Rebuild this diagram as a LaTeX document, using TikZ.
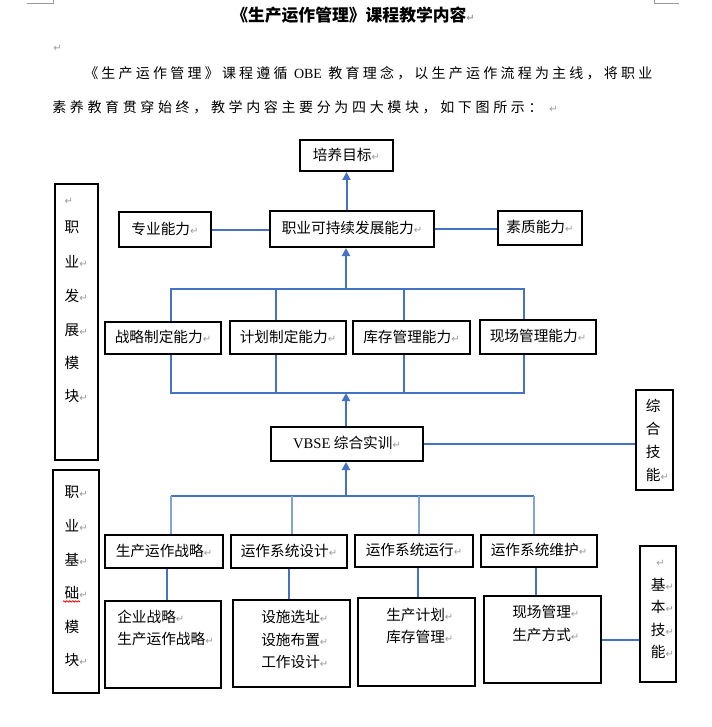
\documentclass[tikz,border=0pt]{standalone}
\usepackage{fontspec}
\setmainfont{Noto Sans CJK SC}
\newfontfamily\symfont{DejaVu Sans}
\newfontfamily\latinserif{Liberation Serif}
\newfontfamily\paraA{Noto Sans CJK SC}[LetterSpace=23]
\newfontfamily\paraB{Noto Sans CJK SC}[LetterSpace=26]
\usetikzlibrary{arrows.meta, calc, decorations.pathmorphing}
\definecolor{linkblue}{RGB}{68,114,196}
\definecolor{paleblue}{RGB}{128,165,208}
\definecolor{markgray}{RGB}{155,155,155}
\newcommand{\retmark}{{\symfont\color{markgray}\fontsize{7.5}{8}\selectfont ↵}}
\newcommand{\boxfont}{\fontsize{11}{13}\selectfont}

\begin{document}
\begin{tikzpicture}[x=0.75pt, y=-0.75pt,
    box/.style={draw, line width=1.5pt, inner sep=0pt, font=\boxfont, text height=0.76em, text depth=0.02em},
    modbox/.style={draw, line width=0.8pt, inner sep=0pt},
    boxsize/.style 2 args={minimum width=#1*0.75pt, minimum height=#2*0.75pt},
    txt/.style={anchor=west, inner sep=0pt, font=\boxfont, text height=0.76em, text depth=0.02em},
    conn/.style={linkblue, line width=1.5pt},
    paleconn/.style={paleblue, line width=1.2pt},
    uparrow/.style={conn, -{Triangle[length=6pt, width=6pt]}}
]

\path[use as bounding box, fill=white] (0,0) rectangle (712,727);

% page corner marks
\draw[markgray, line width=0.6pt] (27,3) -- (53,3) -- (53,0);
\draw[markgray, line width=0.6pt] (654,0) -- (654,3) -- (679,3);

% heading and intro
\node[txt, font=\fontsize{12.6}{14}\selectfont\bfseries] (title) at (231,17) {《生产运作管理》课程教学内容\retmark};
\node[txt] (gap) at (53,47) {\retmark};
\node[txt, font=\paraA\fontsize{10.5}{12}\selectfont] (intro1) at (84,74) {《生产运作管理》课程遵循 {\latinserif OBE} 教育理念，以生产运作流程为主线，将职业};
\node[txt, font=\paraB\fontsize{10.5}{12}\selectfont] (intro2) at (52,108) {素养教育贯穿始终，教学内容主要分为四大模块，如下图所示：\ \retmark};

% development module
\node[box, boxsize={93}{31}] (goal) at (346.5,155.5) {培养目标\retmark};
\node[box, boxsize={164}{36}] (core) at (352,229) {职业可持续发展能力\retmark};
\node[box, boxsize={92}{35}] (prof) at (165,229.5) {专业能力\retmark};
\node[box, boxsize={84}{34}] (qual) at (540,228) {素质能力\retmark};

\node[box, boxsize={116}{32}] (ab1) at (163,338) {战略制定能力\retmark};
\node[box, boxsize={116}{33}] (ab2) at (288,337.5) {计划制定能力\retmark};
\node[box, boxsize={117}{33}] (ab3) at (411.5,337.5) {库存管理能力\retmark};
\node[box, boxsize={116}{34}] (ab4) at (538,337) {现场管理能力\retmark};

% practice
\node[box, boxsize={152}{34}] (vbse) at (347,444) {{\latinserif VBSE} 综合实训\retmark};
\node[box, boxsize={37}{100}] (synth) at (654.5,440) {};
\foreach \t/\dy [count=\i] in {综/18, 合/41, 技/64, 能\retmark/87}
  \node[txt] (synth-\i) at ($(synth.north west)+(10.6,\dy)$) {\t};

% basic module
\node[box, boxsize={118}{33}] (op1) at (164,551.5) {生产运作战略\retmark};
\node[box, boxsize={116}{33}] (op2) at (289,551.5) {运作系统设计\retmark};
\node[box, boxsize={118}{32}] (op3) at (414,551) {运作系统运行\retmark};
\node[box, boxsize={116}{32}] (op4) at (539,551) {运作系统维护\retmark};

\node[box, boxsize={116}{87}] (det1) at (163,644.5) {};
\foreach \t/\dy [count=\i] in {企业战略/18, 生产运作战略/40}
  \node[txt] (det1-\i) at ($(det1.north west)+(13,\dy)$) {\t\retmark};
\node[box, boxsize={117}{87}] (det2) at (291.5,643.5) {};
\foreach \t/\dy [count=\i] in {设施选址/19, 设施布置/41.5, 工作设计/64}
  \node[txt] (det2-\i) at ($(det2.north west)+(29,\dy)$) {\t\retmark};
\node[box, boxsize={117}{88}] (det3) at (416.5,642) {};
\foreach \t/\dy [count=\i] in {生产计划/19, 库存管理/41}
  \node[txt] (det3-\i) at ($(det3.north west)+(29,\dy)$) {\t\retmark};
\node[box, boxsize={117}{87}] (det4) at (542.5,639.5) {};
\foreach \t/\dy [count=\i] in {现场管理/18, 生产方式/41}
  \node[txt] (det4-\i) at ($(det4.north west)+(29,\dy)$) {\t\retmark};

\node[box, boxsize={36}{136}] (basic) at (658,614) {};
\node[txt] (basic-0) at ($(basic.north west)+(17,17)$) {\retmark};
\foreach \t/\dy [count=\i] in {基/41, 本/63, 技/86, 能/108}
  \node[txt] (basic-\i) at ($(basic.north west)+(11.6,\dy)$) {\t\retmark};

% side labels
\node[modbox, boxsize={43}{276}] (modA) at (76.5,322) {};
\foreach \t/\dy [count=\i] in {{\retmark}/16, 职/44, 业\retmark/79, 发\retmark/113, 展\retmark/147, 模/180, 块\retmark/213}
  \node[txt] (modA-\i) at ($(modA.north west)+(10,\dy)$) {\t};
\node[modbox, boxsize={46}{223}] (modB) at (76,581.5) {};
\foreach \t/\dy [count=\i] in {职\retmark/23, 业\retmark/57, 基\retmark/91, 础\retmark/124, 模/158, 块\retmark/191}
  \node[txt] (modB-\i) at ($(modB.north west)+(12,\dy)$) {\t};
\draw[red, line width=0.6pt, decorate, decoration={snake, amplitude=0.5pt, segment length=2.2pt}]
  ($(modB-4.south west)+(-1.5,2.5)$) -- ($(modB-4.south west)+(15.5,2.5)$);

% connectors, upper part
\draw[uparrow] (goal.south |- core.north) -- (goal.south);
\draw[conn] (prof.east) -- (prof.east -| core.west);
\draw[conn] (core.east) -- (core.east -| qual.west);

\foreach \n/\dx in {ab1/7.5, ab2/-12.5, ab3/-7.5, ab4/-14.5}
  \coordinate (\n-x) at ($(\n.center)+(\dx,0)$);
\coordinate (topbus) at (346,289);
\coordinate (midbus) at (346,393);
\draw[conn] (ab1.north -| ab1-x) |- (topbus) -| (ab4.north -| ab4-x);
\draw[conn] (ab1.south -| ab1-x) |- (midbus) -| (ab4.south -| ab4-x);
\foreach \n in {ab2, ab3} {
  \draw[conn] (\n.north -| \n-x) -- (topbus -| \n-x);
  \draw[conn] (\n.south -| \n-x) -- (midbus -| \n-x);
}
\draw[uparrow] (topbus) -- (topbus |- core.south);
\draw[uparrow] (vbse.north -| midbus) -- (midbus);
\draw[conn] (vbse.east) -- (vbse.east -| synth.west);

% connectors, lower part
\foreach \n/\dx in {op1/7, op2/3, op3/5, op4/-5}
  \coordinate (\n-x) at ($(\n.center)+(\dx,0)$);
\coordinate (basebus) at (346,496);
\draw[conn] (op1-x |- basebus) -- (op4-x |- basebus);
\foreach \i in {1,...,4}
  \draw[paleconn] (op\i-x |- basebus) -- (op\i.north -| op\i-x);
\draw[uparrow] (basebus) -- (basebus |- vbse.south);

\foreach \i/\dx in {1/3, 2/0, 3/4, 4/-3} {
  \coordinate (op\i-y) at ($(op\i.south)+(\dx,0)$);
  \draw[conn] (op\i-y) -- (op\i-y |- det\i.north);
}
\draw[conn] (det4.east) -- (det4.east -| basic.west);

\end{tikzpicture}
\end{document}
